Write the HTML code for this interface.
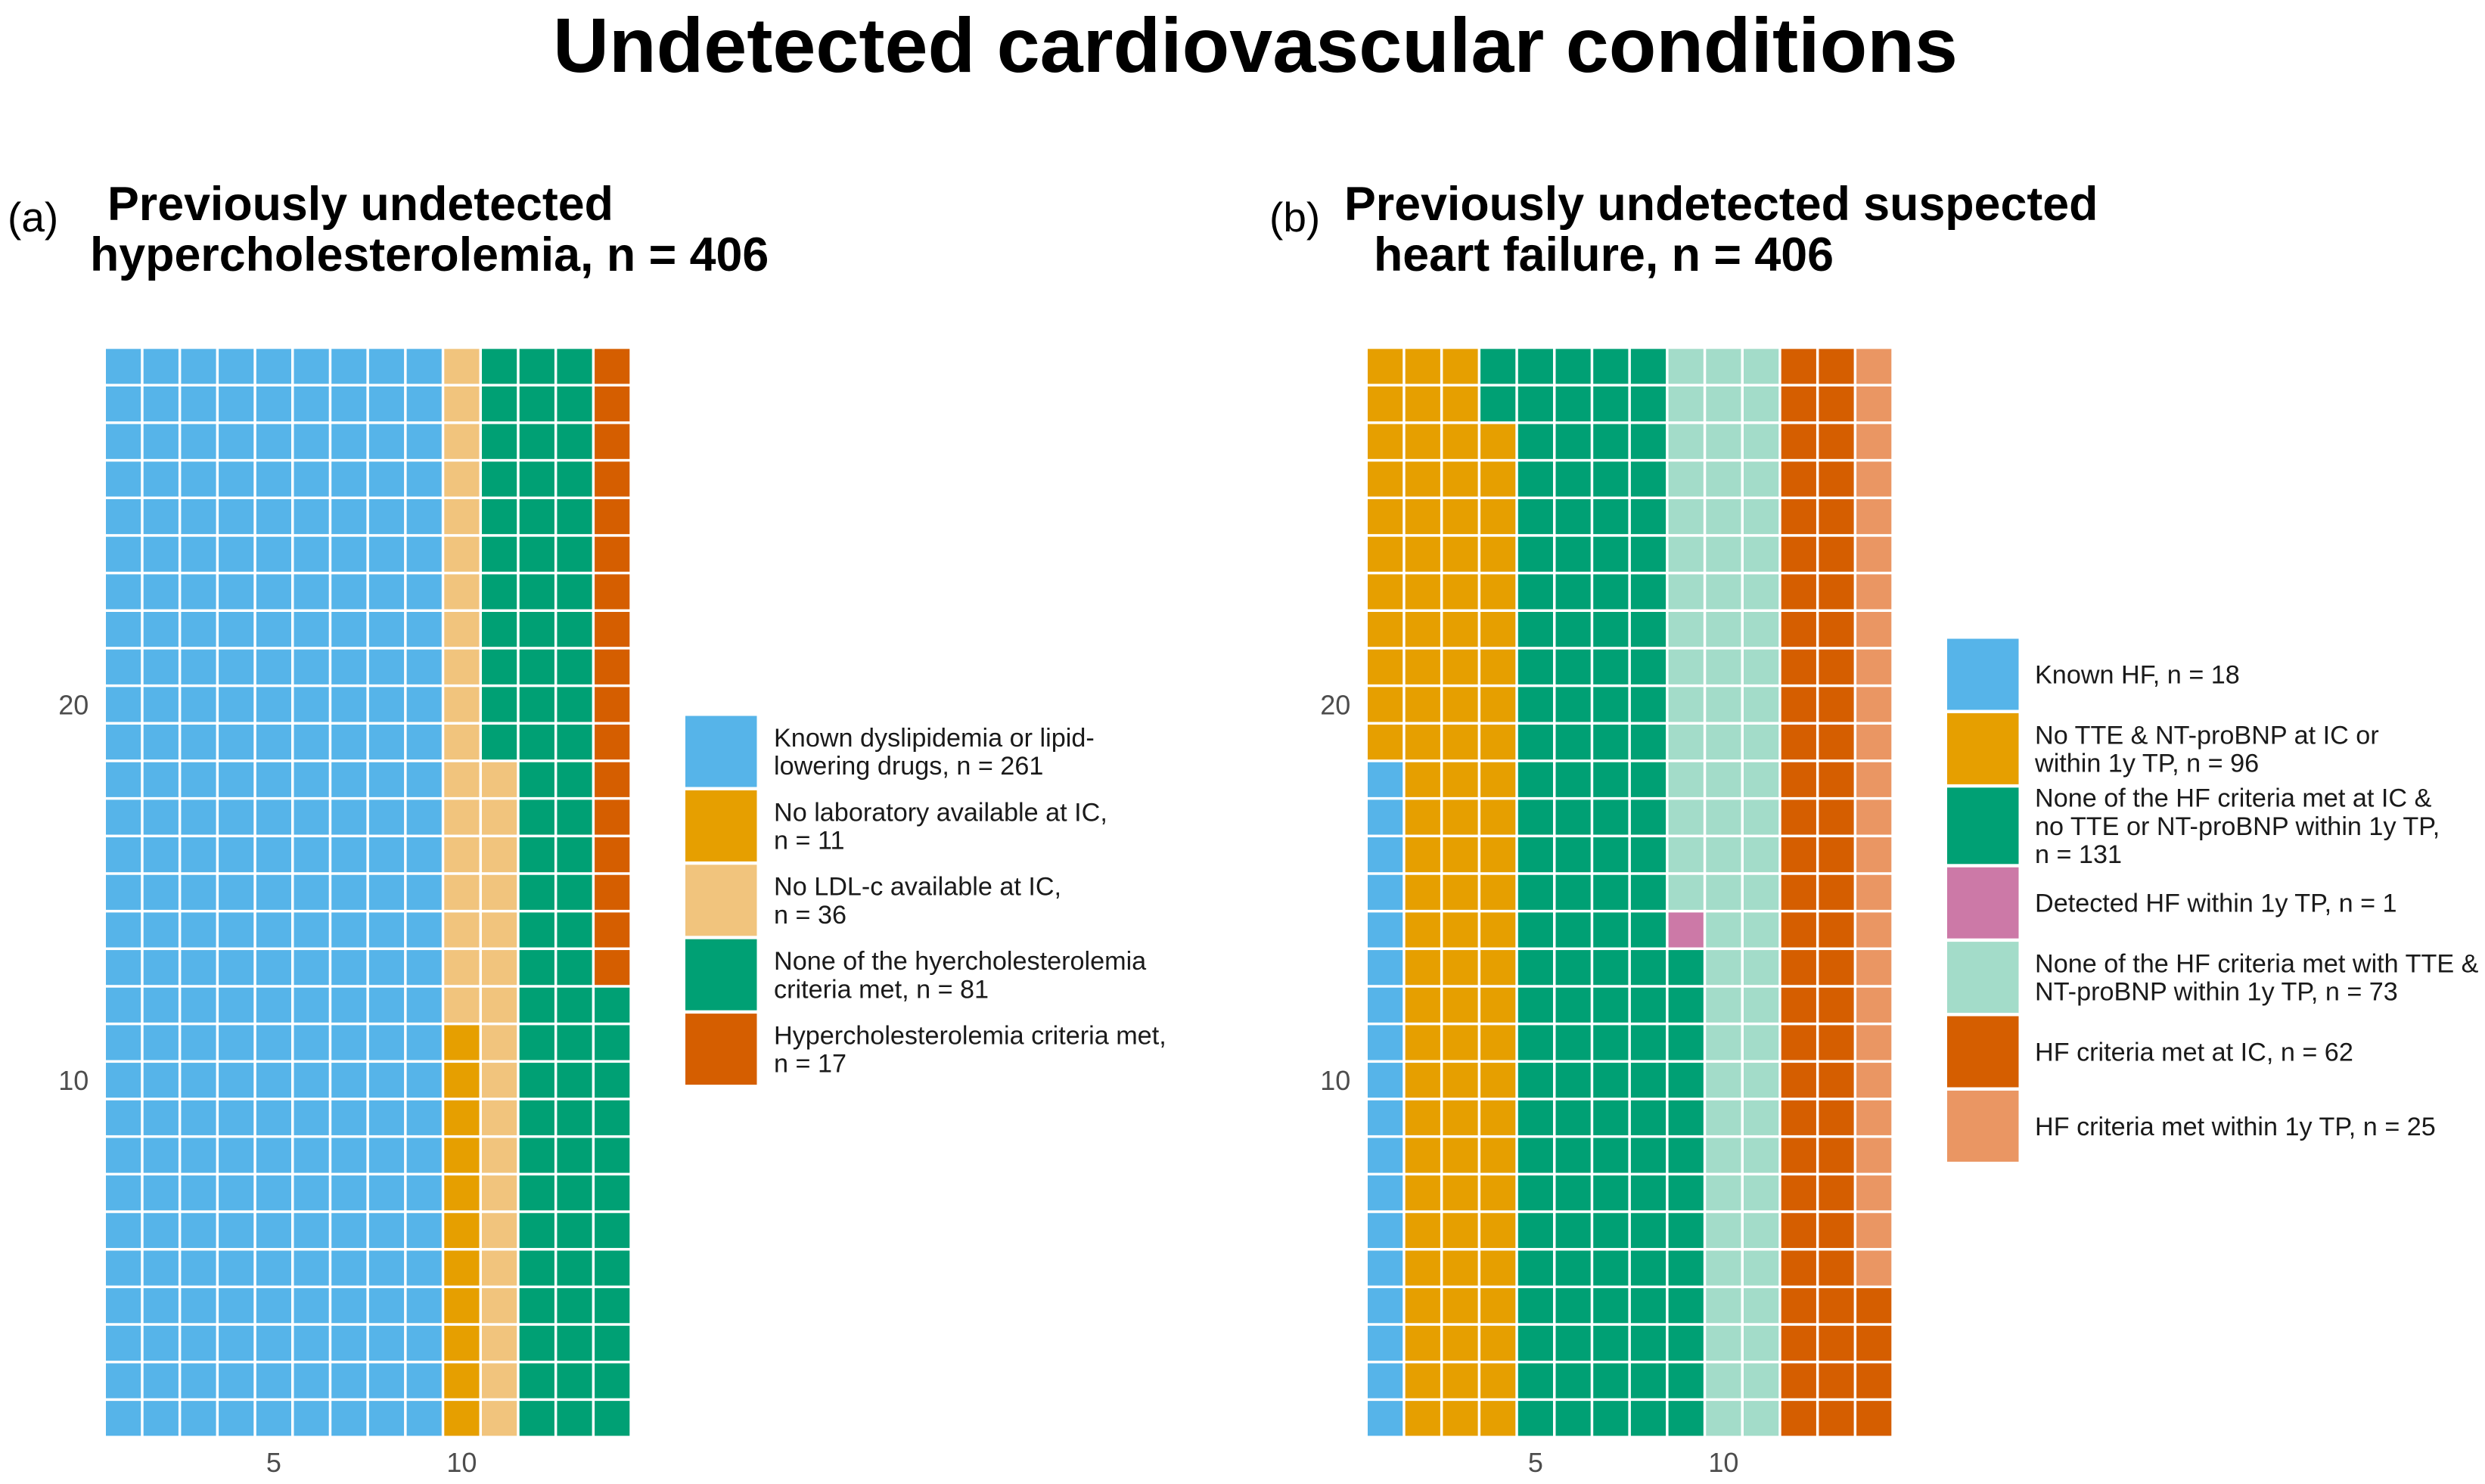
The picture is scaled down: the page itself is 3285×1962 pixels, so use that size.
<!DOCTYPE html>
<html lang="en">
<head>
<meta charset="utf-8">
<title>Undetected cardiovascular conditions</title>
<style>
html,body{margin:0;padding:0;background:#fff;}
svg{display:block;}
text{font-family:"Liberation Sans",Arial,sans-serif;}
.main-title{font-size:102.5px;font-weight:bold;fill:#000;}
.panel-title{font-size:62.7px;font-weight:bold;fill:#000;}
.tag{font-size:55px;fill:#000;}
.tick{font-size:36px;fill:#4d4d4d;text-anchor:middle;}
.legend-text{font-size:34.2px;fill:#1a1a1a;}
</style>
</head>
<body>
<svg id="figure" xmlns="http://www.w3.org/2000/svg" width="3285" height="1962" viewBox="0 0 3285 1962">
  <rect x="0" y="0" width="3285" height="1962" fill="#ffffff"/>
  <text class="main-title" x="731" y="95">Undetected cardiovascular conditions</text>
  <text class="tag" x="10" y="306">(a)</text>
  <text class="panel-title" x="142" y="291">Previously undetected</text>
  <text class="panel-title" x="119" y="358">hypercholesterolemia, n = 406</text>
  <text class="tag" x="1678" y="306">(b)</text>
  <text class="panel-title" x="1777" y="291">Previously undetected suspected</text>
  <text class="panel-title" x="1816" y="358">heart failure, n = 406</text>
</svg>
<script>
// Panel (a) data
const panelACounts = [261, 11, 36, 81, 17];
const panelAColors = ['#56B4E9', '#E69F00', '#F1C47D', '#00A074', '#D55E00'];
const panelALabels = [
  ['Known dyslipidemia or lipid-', 'lowering drugs, n = '],
  ['No laboratory available at IC,', 'n = '],
  ['No LDL-c available at IC,', 'n = '],
  ['None of the hyercholesterolemia', 'criteria met, n = '],
  ['Hypercholesterolemia criteria met,', 'n = ']
];
// Panel (b) data
const panelBCounts = [18, 96, 131, 1, 73, 62, 25];
const panelBColors = ['#56B4E9', '#E69F00', '#00A074', '#CC79A7', '#A3DCC9', '#D55E00', '#EA9663'];
const panelBLabels = [
  ['Known HF, n = '],
  ['No TTE & NT-proBNP at IC or', 'within 1y TP, n = '],
  ['None of the HF criteria met at IC &', 'no TTE or NT-proBNP within 1y TP,', 'n = '],
  ['Detected HF within 1y TP, n = '],
  ['None of the HF criteria met with TTE &', 'NT-proBNP within 1y TP, n = '],
  ['HF criteria met at IC, n = '],
  ['HF criteria met within 1y TP, n = ']
];
// Axis ticks
const xTicks = [5, 10];
const yTicks = [10, 20];
const rowsPerColumn = 29;

const svg = document.getElementById('figure');
const NS = 'http://www.w3.org/2000/svg';

function makeEl(tag, attrs) {
  const el = document.createElementNS(NS, tag);
  for (const k in attrs) el.setAttribute(k, attrs[k]);
  return el;
}

function drawWaffle(panel, counts, colors, left, right, top, bottom) {
  const total = counts.reduce((a, b) => a + b, 0);
  const cols = Math.ceil(total / rowsPerColumn);
  const pitchX = (right - left) / cols;
  const pitchY = (bottom - top) / rowsPerColumn;
  const gap = 3.5;
  const xCenter = c => left + (c - 0.5) * pitchX;
  const yCenter = r => bottom - (r - 0.5) * pitchY;

  let idx = 0;
  counts.forEach((n, cat) => {
    for (let i = 0; i < n; i++) {
      const col = Math.floor(idx / rowsPerColumn) + 1;
      const row = idx % rowsPerColumn + 1;
      const cell = makeEl('rect', {
        x: xCenter(col) - (pitchX - gap) / 2,
        y: yCenter(row) - (pitchY - gap) / 2,
        width: pitchX - gap,
        height: pitchY - gap,
        fill: colors[cat]
      });
      
      
      svg.appendChild(cell);
      idx++;
    }
  });

  xTicks.forEach(t => {
    const label = makeEl('text', { class: 'tick', x: xCenter(t), y: 1946 });
    
    
    label.textContent = String(t);
    svg.appendChild(label);
  });
  yTicks.forEach(t => {
    const label = makeEl('text', { class: 'tick', x: left - 41, y: yCenter(t) + 13 });
    
    
    label.textContent = String(t);
    svg.appendChild(label);
  });
}

function drawLegend(counts, colors, labels, swatchX, textX, startY) {
  const swatchW = 94.5;
  const lineH = 37.2;
  let y = startY;
  counts.forEach((n, i) => {
    const lines = labels[i];
    const h = lines.length >= 3 ? 101 : 94;
    const swatch = makeEl('rect', { x: swatchX, y: y, width: swatchW, height: h, fill: colors[i] });
    
    
    svg.appendChild(swatch);
    const center = y + h / 2;
    lines.forEach((line, j) => {
      const isLast = j === lines.length - 1;
      const t = makeEl('text', {
        class: 'legend-text',
        x: textX,
        y: center + 12 - (lines.length - 1) / 2 * lineH + j * lineH
      });
      
      
      t.textContent = isLast ? line + n : line;
      svg.appendChild(t);
    });
    y += h + 4.4;
  });
}

drawWaffle('a', panelACounts, panelAColors, 138.25, 834.05, 459.55, 1900.05);
drawLegend(panelACounts, panelAColors, panelALabels, 906, 1023, 946.5);
drawWaffle('b', panelBCounts, panelBColors, 1806.25, 2502.05, 459.55, 1900.05);
drawLegend(panelBCounts, panelBColors, panelBLabels, 2574, 2690, 844.5);
</script>
</body>
</html>
